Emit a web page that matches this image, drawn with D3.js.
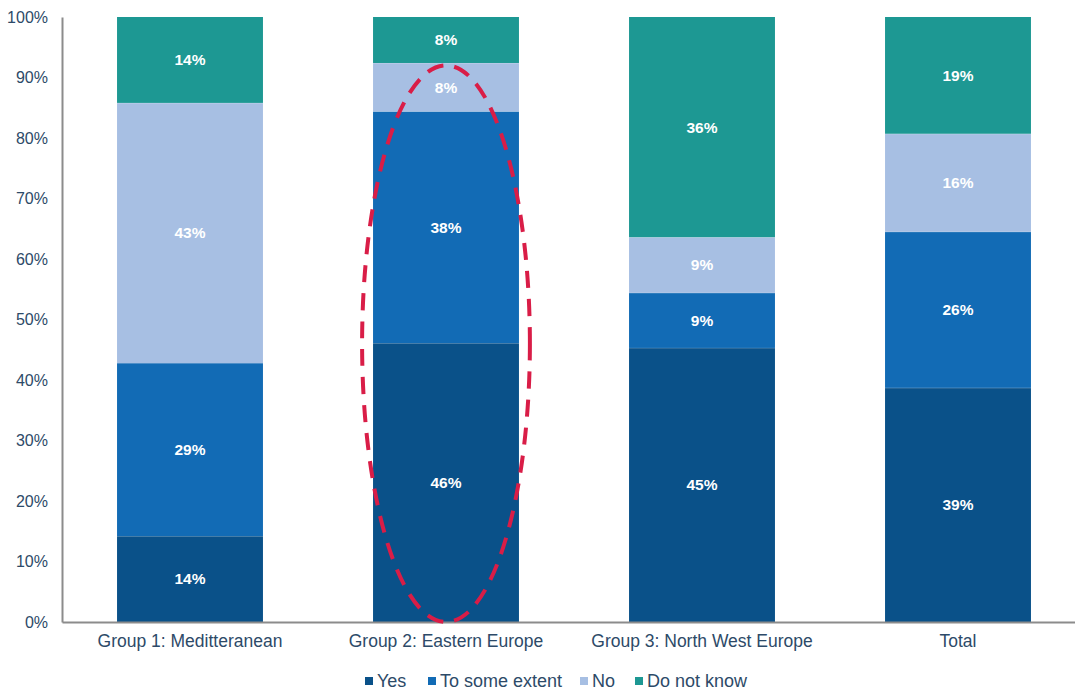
<!DOCTYPE html>
<html>
<head>
<meta charset="utf-8">
<script src="https://cdn.jsdelivr.net/npm/d3@7"></script>
<style>
  body { margin: 0; background: #fff; }
  svg { display: block; font-family: "Liberation Sans", Arial, sans-serif; }
</style>
</head>
<body>
<div id="chart"></div>
<script>
// data (shares of each group)
const groups = ["Group 1: Mediterranean", "Group 2: Eastern Europe", "Group 3: North West Europe", "Total"];
const groupLabels = ["Group 1: Meditteranean", "Group 2: Eastern Europe", "Group 3: North West Europe", "Total"];
const answers = ["Yes", "To some extent", "No", "Do not know"];
const yes = [0.142, 0.461, 0.453, 0.387];
const someExtent = [0.286, 0.383, 0.091, 0.258];
const no = [0.430, 0.080, 0.092, 0.162];
const dontKnow = [0.142, 0.076, 0.364, 0.193];
const yTicks = [0, 0.1, 0.2, 0.3, 0.4, 0.5, 0.6, 0.7, 0.8, 0.9, 1];
const colors = ["#0a5189", "#126bb5", "#a7bfe3", "#1d9893"];

const width = 1075, height = 690;
const margin = { top: 17, right: -11, bottom: 68, left: 62 };

const table = groups.map((g, i) => ({
  group: g,
  label: groupLabels[i],
  "Yes": yes[i],
  "To some extent": someExtent[i],
  "No": no[i],
  "Do not know": dontKnow[i],
}));

const svg = d3.select("#chart").append("svg")
  .attr("width", width)
  .attr("height", height);

const x = d3.scaleBand()
  .domain(groups)
  .range([margin.left, width - margin.right])
  .paddingInner(0.43)
  .paddingOuter(0.215);

const y = d3.scaleLinear()
  .domain([0, 1])
  .range([height - margin.bottom, margin.top]);

const color = d3.scaleOrdinal().domain(answers).range(colors);

const stacked = d3.stack().keys(answers)(table);

// bars
const layers = svg.append("g")
  .selectAll("g")
  .data(stacked)
  .join("g")
  .attr("fill", (d) => color(d.key));

layers.selectAll("rect")
  .data((d) => d)
  .join("rect")
  .attr("x", (d) => x(d.data.group))
  .attr("y", (d) => y(d[1]))
  .attr("width", x.bandwidth())
  .attr("height", (d) => y(d[0]) - y(d[1]));

// thin light seams between segments
layers.selectAll("line")
  .data((d) => d.filter((p) => p[1] < 0.999))
  .join("line")
  .attr("x1", (d) => x(d.data.group))
  .attr("x2", (d) => x(d.data.group) + x.bandwidth())
  .attr("y1", (d) => y(d[1]))
  .attr("y2", (d) => y(d[1]))
  .attr("stroke", "#ffffff")
  .attr("stroke-opacity", 0.35)
  .attr("stroke-width", 1);

// value labels
layers.selectAll("text")
  .data((d) => d)
  .join("text")
  .attr("x", (d) => x(d.data.group) + x.bandwidth() / 2)
  .attr("y", (d) => (y(d[0]) + y(d[1])) / 2)
  .attr("dy", "0.35em")
  .attr("text-anchor", "middle")
  .attr("fill", "#ffffff")
  .attr("font-size", 15.5)
  .attr("font-weight", "bold")
  .text((d) => Math.round((d[1] - d[0]) * 100) + "%");

// Y axis
const yAxis = svg.append("g")
  .attr("transform", `translate(${margin.left},0)`)
  .call(d3.axisLeft(y).tickValues(yTicks).tickFormat(d3.format(".0%")).tickSize(0).tickPadding(14));
yAxis.select(".domain").attr("stroke", "#8c8c8c").attr("stroke-width", 2);
yAxis.selectAll("text")
  .attr("font-size", 16)
  .attr("fill", "#2d4a68")
  .attr("font-family", "Liberation Sans, Arial, sans-serif");

// X axis
const xAxis = svg.append("g")
  .attr("transform", `translate(0,${height - margin.bottom})`)
  .call(d3.axisBottom(x).tickSize(0).tickPadding(13).tickFormat((d, i) => groupLabels[i]));
xAxis.select(".domain").attr("stroke", "#8c8c8c").attr("stroke-width", 2);
xAxis.selectAll("text")
  .attr("font-size", 17.5)
  .attr("fill", "#2d4a68")
  .attr("font-family", "Liberation Sans, Arial, sans-serif");

// red dashed ellipse around group 2
svg.append("ellipse")
  .attr("cx", x(groups[1]) + x.bandwidth() / 2)
  .attr("cy", y(0.46))
  .attr("rx", x.bandwidth() * 0.575)
  .attr("ry", y(0) - y(0.46))
  .attr("fill", "none")
  .attr("stroke", "#d91d47")
  .attr("stroke-width", 4)
  .attr("stroke-dasharray", "17 11");

// legend
const legendX = [365, 428, 580, 635];
const legend = svg.append("g")
  .selectAll("g")
  .data(answers)
  .join("g")
  .attr("transform", (d, i) => `translate(${legendX[i]},681)`);

legend.append("rect")
  .attr("x", 0)
  .attr("y", -4)
  .attr("width", 8)
  .attr("height", 8)
  .attr("fill", (d) => color(d));

legend.append("text")
  .attr("x", 12)
  .attr("dy", "0.35em")
  .attr("font-size", 18)
  .attr("fill", "#2d4a68")
  .text((d) => d);
</script>
</body>
</html>
